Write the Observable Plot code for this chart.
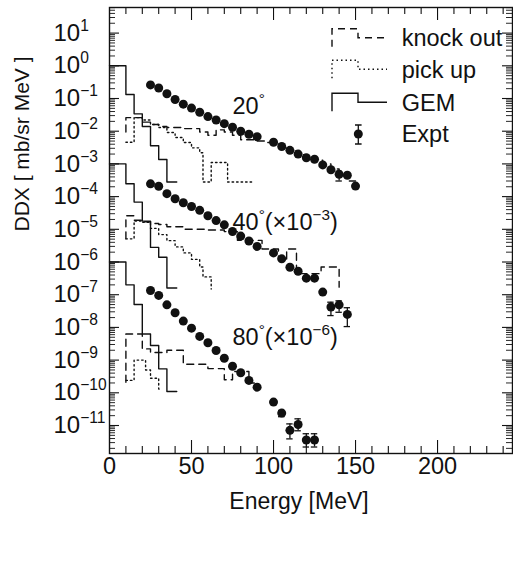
<!DOCTYPE html>
<html>
<head>
<meta charset="utf-8">
<script src="https://cdn.jsdelivr.net/npm/d3@7"></script>
<script src="https://cdn.jsdelivr.net/npm/@observablehq/plot@0.6"></script>
<style>
html,body{margin:0;padding:0;background:#fff;}
#chart{width:513px;height:570px;}
</style>
</head>
<body>
<div id="chart"></div>
<script>
const expt20E = [25,30,35,40,45,50,55,60,65,70,75,80,85,90,100,105,110,115,120,125,130,135,140,145,150];
const expt20V = [0.26,0.21,0.14,0.093,0.067,0.051,0.038,0.028,0.022,0.017,0.0132,0.0100,0.0081,0.0068,0.0046,0.0034,0.0026,0.0020,0.00154,0.00139,0.00093,0.00066,0.00048,0.00045,0.00021];
const expt40E = [25,30,35,40,45,50,55,60,65,70,75,80,85,90,100,105,110,115,120,125,130,135,140,145];
const expt40V = [2.46e-4,2.08e-4,1.23e-4,8.6e-5,6.5e-5,5.0e-5,3.8e-5,2.6e-5,1.85e-5,1.37e-5,8.6e-6,6.2e-6,4.4e-6,3.0e-6,1.9e-6,1.25e-6,6.9e-7,5.2e-7,3.2e-7,3.2e-7,1.2e-7,4.2e-8,4.9e-8,2.5e-8];
const expt80E = [25,30,35,40,45,50,55,60,65,70,75,80,85,90,100,105,110,115,120,125];
const expt80V = [1.35e-7,9.5e-8,4.9e-8,2.8e-8,1.56e-8,9.5e-9,5.3e-9,3.4e-9,1.96e-9,1.14e-9,6.5e-10,4.1e-10,2.4e-10,1.49e-10,5.2e-11,2.4e-11,7.1e-12,1.07e-11,3.6e-12,3.6e-12];
const errE  = [140,    135,    140,    145,     105,     110,     115,     120,     125];
const errLo = [3.0e-4, 2.3e-8, 2.9e-8, 1.06e-8, 1.86e-11, 3.9e-12, 6.9e-12, 2.2e-12, 2.2e-12];
const errHi = [6.0e-4, 5.9e-8, 6.5e-8, 4.0e-8,  2.9e-11,  1.12e-11, 1.6e-11, 5.6e-12, 5.6e-12];
const gemX  = [0,10,15,20,25,30,35,41];
const gem20 = [1.0,0.133,0.034,0.0139,0.0036,0.00136,2.8e-4,2.8e-4];
const gem40 = [1e-3,2.46e-4,6.8e-5,1.78e-5,2.8e-6,1.4e-6,1.6e-7,1.6e-7];
const gem80 = [1e-6,2.0e-7,5.0e-8,6.3e-9,2.8e-9,5.4e-10,1.1e-10,1.1e-10];
const knock20X = [10,10,15,20,25,30,35,40,45,50,55,60,65,70,75,80,85,90,95,100,105,110,115,120,125,130,135,140,145,150];
const knock20V = [0.0095,0.026,0.026,0.019,0.016,0.014,0.013,0.013,0.012,0.012,0.0095,0.0075,0.011,0.0095,0.0075,0.0055,0.0055,0.005,0.0045,0.004,0.003,0.0025,0.0019,0.0016,0.0013,0.001,0.0007,0.0005,0.0003,0.0003];
const knock40X = [10,10,15,20,25,30,35,45,50,60,70,78,93,103,108,114,129,140,140];
const knock40V = [5.1e-6,2.6e-5,1.9e-5,1.7e-5,1.5e-5,1.4e-5,1.2e-5,1.0e-5,1.0e-5,9.5e-6,8.5e-6,4.6e-6,2.5e-6,1.2e-6,2.5e-6,4.4e-7,7e-7,7e-7,1.7e-7];
const knock80X = [10,10,20,25,35,45,60,70,75,85,90];
const knock80V = [2.1e-10,6.3e-9,2.2e-9,1.7e-9,2.0e-9,7.5e-10,5.5e-10,2.5e-10,4.5e-10,2.0e-10,2.0e-10];
const pick20X = [10,15,20,25,30,35,40,45,50,55,57,62,72,87];
const pick20V = [0.0046,0.026,0.022,0.016,0.013,0.0091,0.0064,0.0045,0.0031,0.0022,0.00028,0.0011,0.00028,0.00028];
const pick40X = [10,15,20,25,30,35,40,45,50,55,57,62,62];
const pick40V = [5.1e-6,1.8e-5,1.65e-5,1.07e-5,6.9e-6,4.5e-6,2.9e-6,1.9e-6,1.2e-6,7e-7,3.5e-7,3.5e-7,1.5e-7];
const pick80X = [10,15,22,25,30,31];
const pick80V = [2.4e-10,1.0e-9,5e-10,2.8e-10,1.3e-10,1.3e-10];
const annoText = ["20^{°}", "40^{°}(×10^{\u22123})", "80^{°}(×10^{\u22126})"];
const annoE = [75, 75, 75];
const annoV = [0.058, 1.65e-5, 5e-9];
const xTickLabels = [0, 50, 100, 150, 200];
const yDecades = [1,0,-1,-2,-3,-4,-5,-6,-7,-8,-9,-10,-11];
const legendLabels = ["knock out", "pick up", "GEM", "Expt"];

const FONT = "'Liberation Sans', Arial, Helvetica, sans-serif";
const W = 513, H = 570, mL = 109, mR = 1, mT = 7, mB = 117;
const yLogLo = -11.856, yLogHi = 1.783, xMax = 245.7;
const frameW = W - mL - mR, frameH = H - mT - mB;
const pxDec = frameH / (yLogHi - yLogLo);
const mevPx = xMax / frameW;
const yUp = (lg, px) => 10 ** (lg + px / pxDec);
const INK = "#111";

const pts = (E, V) => E.map((e, i) => ({E: e, V: V[i]}));
const exptData = [...pts(expt20E, expt20V), ...pts(expt40E, expt40V), ...pts(expt80E, expt80V)];
const errData = errE.map((e, i) => ({E: e, lo: errLo[i], hi: errHi[i]}));
const annoData = annoText.map((t, i) => ({t, E: annoE[i], V: annoV[i]}));
const stepLine = (X, V, dash) => Plot.line(X.map((x, i) => ({x, y: V[i]})), {
  x: "x", y: "y", curve: "step-after", stroke: INK, strokeWidth: 1.4, strokeDasharray: dash
});
const xMinor = d3.range(10, 250, 10).filter(v => v % 50 !== 0);
const xMajor = [50, 100, 150, 200];
const yMajor = d3.range(-11, 2).map(n => 10 ** n);
const yMinor = [];
for (let n = -12; n <= 1; n++) for (let k = 2; k <= 9; k++) {
  const v = k * 10 ** n;
  if (Math.log10(v) > yLogLo && Math.log10(v) < yLogHi) yMinor.push(v);
}
const yBot = 10 ** yLogLo, yTop = 10 ** yLogHi;

const plot = Plot.plot({
  width: W, height: H,
  marginLeft: mL, marginRight: mR, marginTop: mT, marginBottom: mB,
  style: {fontFamily: FONT, fontSize: "23px", background: "#fff", color: INK, overflow: "visible"},
  x: {domain: [0, xMax], axis: null},
  y: {type: "log", domain: [yBot, yTop], axis: null},
  marks: [
    Plot.ruleX(xMinor, {x: d => d, y1: () => yBot, y2: () => yUp(yLogLo, 7), stroke: INK, strokeWidth: 1.1}),
    Plot.ruleX(xMajor, {x: d => d, y1: () => yBot, y2: () => yUp(yLogLo, 13), stroke: INK, strokeWidth: 1.1}),
    Plot.ruleX(xMinor, {x: d => d, y1: () => yTop, y2: () => yUp(yLogHi, -7), stroke: INK, strokeWidth: 1.1}),
    Plot.ruleX(xMajor, {x: d => d, y1: () => yTop, y2: () => yUp(yLogHi, -13), stroke: INK, strokeWidth: 1.1}),
    Plot.ruleY(yMajor, {y: d => d, x1: () => 0, x2: () => 10 * mevPx, stroke: INK, strokeWidth: 1.1}),
    Plot.ruleY(yMinor, {y: d => d, x1: () => 0, x2: () => 6 * mevPx, stroke: INK, strokeWidth: 0.9}),
    Plot.ruleY(yMajor, {y: d => d, x1: () => xMax - 10 * mevPx, x2: () => xMax, stroke: INK, strokeWidth: 1.1}),
    Plot.ruleY(yMinor, {y: d => d, x1: () => xMax - 6 * mevPx, x2: () => xMax, stroke: INK, strokeWidth: 0.9}),
    stepLine(gemX, gem20), stepLine(gemX, gem40), stepLine(gemX, gem80),
    stepLine(knock20X, knock20V, "7,5"), stepLine(knock40X, knock40V, "7,5"), stepLine(knock80X, knock80V, "7,5"),
    stepLine(pick20X, pick20V, "1.5,3"), stepLine(pick40X, pick40V, "1.5,3"), stepLine(pick80X, pick80V, "1.5,3"),
    Plot.ruleX(errData, {x: "E", y1: "lo", y2: "hi", stroke: INK, strokeWidth: 1.3}),
    Plot.ruleY(errData, {y: "lo", x1: d => d.E - 3.2 * mevPx, x2: d => d.E + 3.2 * mevPx, stroke: INK, strokeWidth: 1.3}),
    Plot.ruleY(errData, {y: "hi", x1: d => d.E - 3.2 * mevPx, x2: d => d.E + 3.2 * mevPx, stroke: INK, strokeWidth: 1.3}),
    Plot.dot(exptData, {x: "E", y: "V", r: 4.5, fill: INK, stroke: "none"}),
    Plot.text(annoData, {x: "E", y: "V", text: "t", textAnchor: "start", fontSize: 23.5, fill: INK}),
    Plot.text(yDecades, {y: d => 10 ** d, frameAnchor: "left", dx: -56, textAnchor: "start",
      text: d => `10^{${d < 0 ? "\u2212" + (-d) : d}}`, fontSize: 24, fill: INK}),
    Plot.text(xTickLabels, {x: d => d, frameAnchor: "bottom", dy: 20, text: d => String(d), fontSize: 23.5, fill: INK}),
    Plot.text(["Energy [MeV]"], {frameAnchor: "bottom", dx: -12, dy: 55, text: d => d, fontSize: 23, fill: INK}),
    Plot.text(["DDX [ mb/sr MeV ]"], {frameAnchor: "left", dx: -87, dy: 1, rotate: -90, text: d => d, fontSize: 21, fill: INK}),
    Plot.frame({stroke: INK, strokeWidth: 1.4})
  ]
});
document.getElementById("chart").appendChild(plot);

const NS = "http://www.w3.org/2000/svg";
d3.select(plot).selectAll("text").each(function () {
  const raw = this.textContent;
  if (!raw.includes("^{")) return;
  const base = parseFloat(getComputedStyle(this).fontSize) || 23;
  const parts = raw.split(/\^\{([^}]*)\}/);
  this.textContent = "";
  let shift = 0;
  parts.forEach((p, i) => {
    if (!p) return;
    const sup = i % 2 === 1;
    const ts = document.createElementNS(NS, "tspan");
    const target = sup ? -0.42 * base : 0;
    const dy = target - shift;
    if (dy) ts.setAttribute("dy", dy.toFixed(2));
    shift = target;
    if (sup) ts.setAttribute("font-size", (0.65 * base).toFixed(1));
    ts.textContent = p;
    this.appendChild(ts);
  });
});

const svg = d3.select(plot);
const lg = svg.append("g").attr("class", "legend").attr("text-anchor", "start");
const rowC = [37.7, 69.3, 102.3, 134];
const dashes = ["7,5", "1.5,3", null];
legendLabels.forEach((lab, i) => {
  const c = rowC[i];
  if (i < 3) {
    lg.append("path")
      .attr("d", `M332,${c + 9}V${c - 9}H358V${c}H387`)
      .attr("fill", "none").attr("stroke", INK).attr("stroke-width", 1.4)
      .attr("stroke-dasharray", dashes[i]);
  } else {
    lg.append("path").attr("d", `M358.3,${c - 9}V${c + 10}M355,${c - 9}H361.6M355,${c + 10}H361.6`)
      .attr("fill", "none").attr("stroke", INK).attr("stroke-width", 1.3);
    lg.append("circle").attr("cx", 358.3).attr("cy", c).attr("r", 4.5).attr("fill", INK);
  }
  lg.append("text").attr("x", 401.7).attr("y", c).attr("dy", "0.35em").attr("text-anchor", "start")
    .attr("font-size", 23.5).attr("fill", INK).attr("font-family", FONT).text(lab);
});
</script>
</body>
</html>
